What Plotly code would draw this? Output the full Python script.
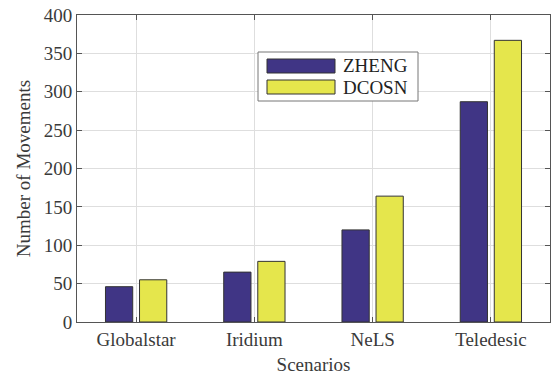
import plotly.graph_objects as go

categories = ["Globalstar", "Iridium", "NeLS", "Teledesic"]
zheng = [46, 65, 120, 287]
dcosn = [55, 79, 164, 367]
series_names = ["ZHENG", "DCOSN"]
colors = ["#403585", "#E5E64C"]

FONT = "Liberation Serif, Times New Roman, serif"

fig = go.Figure()
for name, vals, col in zip(series_names, [zheng, dcosn], colors):
    fig.add_trace(go.Bar(
        x=categories, y=vals, name=name,
        marker=dict(color=col, line=dict(color="#333333", width=1)),
        showlegend=False,
    ))

axis_common = dict(
    showline=True, linecolor="#555555", linewidth=1, mirror="allticks",
    ticks="inside", ticklen=5, tickcolor="#555555",
    showgrid=True, gridcolor="#DEDEDE", gridwidth=1,
    tickfont=dict(family=FONT, size=19, color="#3A3A3A"),
    title_font=dict(family=FONT, size=19, color="#3A3A3A"),
    zeroline=False,
)

fig.update_layout(
    width=551, height=377,
    margin=dict(l=77, r=1, t=15, b=55),
    paper_bgcolor="white", plot_bgcolor="white",
    barmode="group", bargap=0.424, bargroupgap=0.2,
    xaxis=dict(title=dict(text="Scenarios", standoff=8), **axis_common),
    yaxis=dict(title=dict(text="Number of Movements", standoff=8),
               range=[0, 400], dtick=50, **axis_common),
)

# legend box (paper coordinates derived from pixel layout)
W, H = 551 - 77 - 1, 377 - 15 - 55
def px(x):
    return (x - 77) / W
def py(y):
    return 1 - (y - 15) / H

fig.add_shape(type="rect", xref="paper", yref="paper",
              x0=px(258), x1=px(418), y0=py(101), y1=py(52),
              line=dict(color="#777777", width=1), fillcolor="white")
for i, (name, col) in enumerate(zip(series_names, colors)):
    top = 59 + i * 21
    fig.add_shape(type="rect", xref="paper", yref="paper",
                  x0=px(267), x1=px(335), y0=py(top + 14), y1=py(top),
                  line=dict(color="#333333", width=1), fillcolor=col)
    fig.add_annotation(xref="paper", yref="paper", x=px(341), y=py(top + 7),
                       text=name, showarrow=False, xanchor="left", yanchor="middle",
                       font=dict(family=FONT, size=19, color="#222222"))

fig.write_html("out.html")
